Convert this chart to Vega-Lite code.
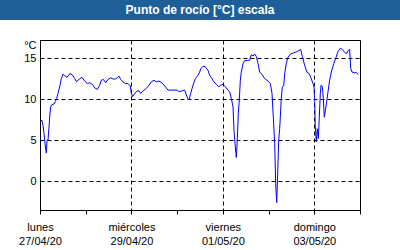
{
  "$schema": "https://vega.github.io/schema/vega-lite/v6.json",
  "padding": 0,
  "background": "white",
  "spacing": 20,
  "bounds": "flush",
  "center": true,
  "config": {
    "font": "Liberation Sans",
    "axis": {"labelFont": "Liberation Sans", "labelFontSize": 11, "labelColor": "black", "titleFont": "Liberation Sans", "titleFontSize": 11, "titleColor": "black", "titleFontWeight": "normal"}
  },
  "vconcat": [
    {
      "width": 400,
      "height": 20,
      "view": {"fill": "#1f5f99", "stroke": null},
      "data": {"values": [{"title": "Punto de rocío [°C] escala"}]},
      "mark": {"type": "text", "color": "white", "fontWeight": "bold", "fontSize": 12, "font": "Liberation Sans"},
      "encoding": {"text": {"field": "title"}}
    },
    {
      "width": 320,
      "height": 170,
      "view": {"stroke": "black", "strokeWidth": 1, "fill": "white"},
      "data": {"values": [
        {"t": "2020-04-27T00:22", "v": 7.4}, {"t": "2020-04-27T01:03", "v": 7.4}, {"t": "2020-04-27T01:35", "v": 6.8},
        {"t": "2020-04-27T02:06", "v": 5.8}, {"t": "2020-04-27T02:28", "v": 5.0}, {"t": "2020-04-27T02:47", "v": 4.3},
        {"t": "2020-04-27T03:19", "v": 3.45}, {"t": "2020-04-27T03:41", "v": 5.0}, {"t": "2020-04-27T04:12", "v": 5.0},
        {"t": "2020-04-27T04:44", "v": 6.6}, {"t": "2020-04-27T05:05", "v": 7.8}, {"t": "2020-04-27T05:37", "v": 9.06},
        {"t": "2020-04-27T06:18", "v": 9.35}, {"t": "2020-04-27T07:21", "v": 9.4}, {"t": "2020-04-27T08:02", "v": 9.7},
        {"t": "2020-04-27T08:46", "v": 10.1}, {"t": "2020-04-27T09:27", "v": 10.7}, {"t": "2020-04-27T10:20", "v": 11.5},
        {"t": "2020-04-27T11:11", "v": 12.5}, {"t": "2020-04-27T12:05", "v": 13.05}, {"t": "2020-04-27T12:58", "v": 12.85},
        {"t": "2020-04-27T14:11", "v": 12.65}, {"t": "2020-04-27T15:35", "v": 13.1}, {"t": "2020-04-27T16:48", "v": 13.0},
        {"t": "2020-04-27T18:13", "v": 12.5}, {"t": "2020-04-27T19:16", "v": 12.1}, {"t": "2020-04-27T20:19", "v": 12.4},
        {"t": "2020-04-27T22:03", "v": 12.65}, {"t": "2020-04-27T23:28", "v": 12.2},
        {"t": "2020-04-28T00:50", "v": 11.9}, {"t": "2020-04-28T02:05", "v": 12.0}, {"t": "2020-04-28T03:27", "v": 11.8},
        {"t": "2020-04-28T05:02", "v": 11.3}, {"t": "2020-04-28T06:05", "v": 11.2}, {"t": "2020-04-28T07:20", "v": 11.7},
        {"t": "2020-04-28T08:11", "v": 12.3}, {"t": "2020-04-28T09:14", "v": 12.4}, {"t": "2020-04-28T10:29", "v": 12.0},
        {"t": "2020-04-28T11:42", "v": 12.4}, {"t": "2020-04-28T13:07", "v": 12.6}, {"t": "2020-04-28T14:20", "v": 12.45},
        {"t": "2020-04-28T15:32", "v": 12.45}, {"t": "2020-04-28T16:35", "v": 12.6}, {"t": "2020-04-28T17:29", "v": 12.8},
        {"t": "2020-04-28T18:22", "v": 12.4}, {"t": "2020-04-28T19:35", "v": 12.1}, {"t": "2020-04-28T20:47", "v": 11.9},
        {"t": "2020-04-28T22:12", "v": 11.9}, {"t": "2020-04-28T23:25", "v": 11.6}, {"t": "2020-04-28T23:56", "v": 10.7},
        {"t": "2020-04-29T00:40", "v": 10.3}, {"t": "2020-04-29T01:43", "v": 10.7}, {"t": "2020-04-29T03:05", "v": 11.0},
        {"t": "2020-04-29T03:59", "v": 11.0}, {"t": "2020-04-29T04:52", "v": 10.7}, {"t": "2020-04-29T06:05", "v": 11.0},
        {"t": "2020-04-29T07:49", "v": 11.3}, {"t": "2020-04-29T09:14", "v": 11.7}, {"t": "2020-04-29T10:26", "v": 12.1},
        {"t": "2020-04-29T11:51", "v": 12.3}, {"t": "2020-04-29T13:04", "v": 12.1}, {"t": "2020-04-29T14:19", "v": 12.2},
        {"t": "2020-04-29T16:03", "v": 12.0}, {"t": "2020-04-29T17:28", "v": 11.6}, {"t": "2020-04-29T19:12", "v": 11.1},
        {"t": "2020-04-29T21:50", "v": 11.1},
        {"t": "2020-04-30T00:05", "v": 11.1}, {"t": "2020-04-30T00:59", "v": 10.9}, {"t": "2020-04-30T02:33", "v": 11.0},
        {"t": "2020-04-30T03:58", "v": 11.1}, {"t": "2020-04-30T04:49", "v": 10.5}, {"t": "2020-04-30T05:42", "v": 10.0},
        {"t": "2020-04-30T06:14", "v": 9.9}, {"t": "2020-04-30T07:07", "v": 10.7}, {"t": "2020-04-30T08:20", "v": 11.7},
        {"t": "2020-04-30T09:32", "v": 12.5}, {"t": "2020-04-30T10:57", "v": 12.9}, {"t": "2020-04-30T11:50", "v": 13.3},
        {"t": "2020-04-30T12:22", "v": 13.7}, {"t": "2020-04-30T13:35", "v": 14.0}, {"t": "2020-04-30T14:47", "v": 13.95},
        {"t": "2020-04-30T16:12", "v": 13.5}, {"t": "2020-04-30T17:05", "v": 12.9}, {"t": "2020-04-30T18:18", "v": 12.5},
        {"t": "2020-04-30T19:21", "v": 12.1}, {"t": "2020-04-30T20:34", "v": 11.8}, {"t": "2020-04-30T21:49", "v": 11.5},
        {"t": "2020-04-30T22:52", "v": 11.7},
        {"t": "2020-05-01T00:05", "v": 11.8}, {"t": "2020-05-01T01:17", "v": 11.5}, {"t": "2020-05-01T02:42", "v": 11.1},
        {"t": "2020-05-01T03:35", "v": 10.9}, {"t": "2020-05-01T04:26", "v": 10.1}, {"t": "2020-05-01T05:20", "v": 9.06},
        {"t": "2020-05-01T05:51", "v": 6.2}, {"t": "2020-05-01T06:32", "v": 4.2}, {"t": "2020-05-01T07:04", "v": 2.9},
        {"t": "2020-05-01T07:35", "v": 5.0}, {"t": "2020-05-01T08:07", "v": 8.3}, {"t": "2020-05-01T08:38", "v": 9.9},
        {"t": "2020-05-01T09:10", "v": 12.3}, {"t": "2020-05-01T09:41", "v": 13.3}, {"t": "2020-05-01T10:35", "v": 14.3},
        {"t": "2020-05-01T11:28", "v": 14.7}, {"t": "2020-05-01T12:50", "v": 14.7}, {"t": "2020-05-01T14:05", "v": 14.75},
        {"t": "2020-05-01T14:56", "v": 15.4}, {"t": "2020-05-01T15:50", "v": 15.25}, {"t": "2020-05-01T16:43", "v": 15.5},
        {"t": "2020-05-01T17:34", "v": 15.2}, {"t": "2020-05-01T18:27", "v": 14.35}, {"t": "2020-05-01T19:20", "v": 13.3},
        {"t": "2020-05-01T20:33", "v": 13.0}, {"t": "2020-05-01T21:58", "v": 12.5}, {"t": "2020-05-01T23:42", "v": 12.2},
        {"t": "2020-05-02T00:55", "v": 11.9}, {"t": "2020-05-02T01:48", "v": 10.7}, {"t": "2020-05-02T02:29", "v": 7.8},
        {"t": "2020-05-02T03:13", "v": 4.6}, {"t": "2020-05-02T03:44", "v": -0.3}, {"t": "2020-05-02T04:16", "v": -2.6},
        {"t": "2020-05-02T04:47", "v": 0.9}, {"t": "2020-05-02T05:19", "v": 5.0}, {"t": "2020-05-02T05:50", "v": 6.4},
        {"t": "2020-05-02T06:10", "v": 7.8}, {"t": "2020-05-02T06:41", "v": 10.1}, {"t": "2020-05-02T07:13", "v": 11.5},
        {"t": "2020-05-02T07:56", "v": 11.6}, {"t": "2020-05-02T08:28", "v": 13.1}, {"t": "2020-05-02T09:19", "v": 14.35},
        {"t": "2020-05-02T10:12", "v": 15.1}, {"t": "2020-05-02T11:37", "v": 15.5}, {"t": "2020-05-02T13:21", "v": 15.65},
        {"t": "2020-05-02T15:05", "v": 15.8}, {"t": "2020-05-02T16:52", "v": 16.05}, {"t": "2020-05-02T17:43", "v": 15.2},
        {"t": "2020-05-02T18:58", "v": 14.1}, {"t": "2020-05-02T20:11", "v": 13.25}, {"t": "2020-05-02T21:23", "v": 13.1},
        {"t": "2020-05-02T22:07", "v": 12.65}, {"t": "2020-05-02T23:20", "v": 11.9}, {"t": "2020-05-02T23:51", "v": 11.5},
        {"t": "2020-05-03T00:13", "v": 9.7}, {"t": "2020-05-03T00:32", "v": 6.6}, {"t": "2020-05-03T01:04", "v": 4.8},
        {"t": "2020-05-03T01:35", "v": 6.4}, {"t": "2020-05-03T02:07", "v": 5.2}, {"t": "2020-05-03T02:38", "v": 7.8},
        {"t": "2020-05-03T03:10", "v": 10.7}, {"t": "2020-05-03T03:32", "v": 11.7}, {"t": "2020-05-03T04:13", "v": 11.5},
        {"t": "2020-05-03T04:44", "v": 10.1}, {"t": "2020-05-03T05:16", "v": 7.8}, {"t": "2020-05-03T05:59", "v": 8.9},
        {"t": "2020-05-03T06:31", "v": 9.7}, {"t": "2020-05-03T07:12", "v": 10.9}, {"t": "2020-05-03T08:05", "v": 12.3},
        {"t": "2020-05-03T08:56", "v": 13.3}, {"t": "2020-05-03T10:11", "v": 14.3}, {"t": "2020-05-03T11:14", "v": 14.95},
        {"t": "2020-05-03T12:27", "v": 15.8}, {"t": "2020-05-03T13:40", "v": 16.2}, {"t": "2020-05-03T14:43", "v": 16.05},
        {"t": "2020-05-03T15:58", "v": 15.7}, {"t": "2020-05-03T16:49", "v": 15.5}, {"t": "2020-05-03T17:42", "v": 15.9},
        {"t": "2020-05-03T18:35", "v": 16.05}, {"t": "2020-05-03T19:07", "v": 13.75}, {"t": "2020-05-03T19:48", "v": 13.3},
        {"t": "2020-05-03T21:13", "v": 13.2}, {"t": "2020-05-03T22:04", "v": 13.25}, {"t": "2020-05-03T22:57", "v": 13.0}
      ]},
      "resolve": {"axis": {"x": "independent"}},
      "layer": [
        {
          "mark": {"type": "line", "color": "#0000ff", "strokeWidth": 1, "clip": true},
          "encoding": {
            "x": {
              "field": "t",
              "type": "temporal",
              "scale": {"domain": [{"year": 2020, "month": 4, "date": 27}, {"year": 2020, "month": 5, "date": 4}]},
              "axis": {
                "orient": "bottom",
                "title": null,
                "values": [
                  {"year": 2020, "month": 4, "date": 27}, {"year": 2020, "month": 4, "date": 28},
                  {"year": 2020, "month": 4, "date": 29}, {"year": 2020, "month": 4, "date": 30},
                  {"year": 2020, "month": 5, "date": 1}, {"year": 2020, "month": 5, "date": 2},
                  {"year": 2020, "month": 5, "date": 3}, {"year": 2020, "month": 5, "date": 4}
                ],
                "labelExpr": "date(datum.value) % 2 == 1 ? ['domingo','lunes','martes','miércoles','jueves','viernes','sábado'][day(datum.value)] : ''",
                "labelFlush": false,
                "labelOverlap": false,
                "labelBound": false,
                "labelBaseline": "top",
                "labelPadding": 7,
                "tickSize": 4,
                "tickColor": "black",
                "domainColor": "black",
                "grid": true,
                "gridColor": "black",
                "gridDash": [4, 3],
                "gridOpacity": {"condition": {"test": "date(datum.value) % 2 == 1", "value": 1}, "value": 0}
              }
            },
            "y": {
              "field": "v",
              "type": "quantitative",
              "scale": {"domain": [-3.5, 17.2], "nice": false, "zero": false},
              "axis": {
                "values": [0, 5, 10, 15],
                "title": "°C",
                "titleAngle": 0,
                "titleX": -4,
                "titleY": 8,
                "titleAlign": "right",
                "titleBaseline": "alphabetic",
                "ticks": false,
                "tickSize": 0,
                "domain": false,
                "labelPadding": 4,
                "grid": true,
                "gridColor": "black",
                "gridDash": [4, 3],
                "gridOpacity": 1
              }
            }
          }
        },
        {
          "mark": {"type": "line", "opacity": 0},
          "encoding": {
            "x": {
              "field": "t",
              "type": "temporal",
              "axis": {
                "orient": "bottom",
                "title": null,
                "values": [
                  {"year": 2020, "month": 4, "date": 27}, {"year": 2020, "month": 4, "date": 29},
                  {"year": 2020, "month": 5, "date": 1}, {"year": 2020, "month": 5, "date": 3}
                ],
                "format": "%d/%m/%y",
                "labelFlush": false,
                "labelOverlap": false,
                "labelBound": false,
                "labelBaseline": "top",
                "labelPadding": 25,
                "ticks": false,
                "tickSize": 0,
                "domain": false,
                "grid": false
              }
            },
            "y": {"field": "v", "type": "quantitative"}
          }
        }
      ]
    }
  ]
}
